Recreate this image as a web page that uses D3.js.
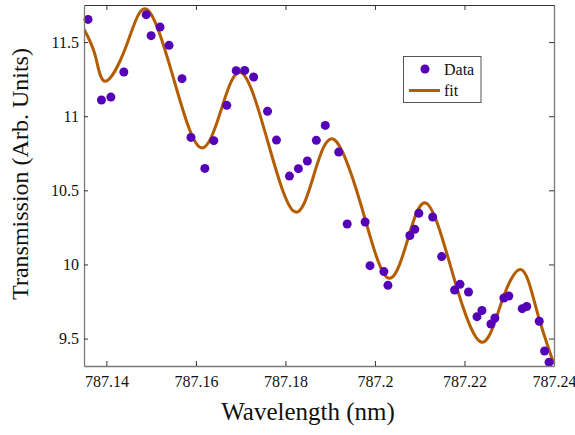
<!DOCTYPE html>
<html>
<head>
<meta charset="utf-8">
<script src="https://cdn.jsdelivr.net/npm/d3@7"></script>
<style>
  html, body { margin: 0; padding: 0; background: #fff; }
  svg { display: block; }
  text { font-family: "Liberation Serif", "DejaVu Serif", serif; fill: #111; }
</style>
</head>
<body>
<svg id="chart" width="575" height="435"></svg>
<script>
// ---- data ----
const dataX = [787.1359, 787.1389, 787.1410, 787.1439, 787.1489, 787.1500, 787.1520, 787.1540,
  787.1569, 787.1589, 787.1620, 787.1640, 787.1669, 787.1690, 787.1709, 787.1729,
  787.1760, 787.1780, 787.1809, 787.1829, 787.1849, 787.1869, 787.1889, 787.1919,
  787.1938, 787.1978, 787.1989, 787.2020, 787.2029, 787.2078, 787.2089, 787.2098,
  787.2129, 787.2149, 787.2178, 787.2190, 787.2209, 787.2228, 787.2239, 787.2259,
  787.2268, 787.2288, 787.2299, 787.2329, 787.2339, 787.2367, 787.2379, 787.2389];
const dataY = [11.653, 11.109, 11.129, 11.298, 11.685, 11.543, 11.601, 11.478,
  11.253, 10.857, 10.648, 10.835, 11.073, 11.307, 11.309, 11.264,
  11.033, 10.839, 10.596, 10.646, 10.698, 10.837, 10.938, 10.758,
  10.273, 10.286, 9.992, 9.952, 9.859, 10.195, 10.237, 10.345,
  10.320, 10.053, 9.828, 9.866, 9.814, 9.648, 9.689, 9.598,
  9.639, 9.774, 9.787, 9.702, 9.716, 9.617, 9.416, 9.340];
const fitX = [787.1350, 787.1375, 787.1398, 787.1445, 787.1491, 787.1550, 787.1608, 787.1656,
  787.1703, 787.1761, 787.1819, 787.1864, 787.1909, 787.1969, 787.2026, 787.2072,
  787.2118, 787.2178, 787.2237, 787.2282, 787.2327, 787.2362, 787.2400];
const fitY = [11.586, 11.410, 11.235, 11.478, 11.720, 11.255, 10.792, 11.039,
  11.291, 10.824, 10.358, 10.608, 10.842, 10.399, 9.915, 10.156,
  10.406, 9.893, 9.477, 9.738, 9.965, 9.684, 9.327];
const xTicks = [787.14, 787.16, 787.18, 787.20, 787.22, 787.24];
const xTickLabels = ["787.14", "787.16", "787.18", "787.2", "787.22", "787.24"];
const yTicks = [9.5, 10, 10.5, 11, 11.5];
const yTickLabels = ["9.5", "10", "10.5", "11", "11.5"];
const legendLabels = ["Data", "fit"];

// ---- layout ----
const L = 84, R = 554, T = 5, B = 366;
const ptColor = "#5500b8", fitColor = "#b35c00", axisColor = "#7a7a7a";
const serif = '"Liberation Serif", "DejaVu Serif", serif';

const svg = d3.select("#chart");
const x = d3.scaleLinear().domain([787.135, 787.24]).range([L, R]);
const y = d3.scaleLinear().domain([9.315, 11.75]).range([B, T]);

const plot = svg.append("g");
plot.append("clipPath").attr("id", "clip").append("rect")
  .attr("x", L).attr("y", T).attr("width", R - L).attr("height", B - T);

// fit curve
const fitPts = fitX.map((v, i) => [v, fitY[i]]);
plot.append("path")
  .attr("clip-path", "url(#clip)")
  .attr("d", d3.line().x(d => x(d[0])).y(d => y(d[1])).curve(d3.curveNatural)(fitPts))
  .attr("fill", "none").attr("stroke", fitColor).attr("stroke-width", 3);

// data points
plot.selectAll("circle.pt").data(dataX.map((v, i) => [v, dataY[i]])).enter()
  .append("circle").attr("class", "pt")
  .attr("cx", d => x(d[0])).attr("cy", d => y(d[1])).attr("r", 4.5)
  .attr("fill", ptColor);

// axes (ticks inward, mirrored)
function styleAxis(g, hideText) {
  g.attr("font-family", serif).attr("font-size", 16);
  g.select(".domain").attr("stroke", axisColor).attr("stroke-width", 1.3);
  g.selectAll(".tick line").attr("stroke", "#333").attr("stroke-width", 1);
  g.selectAll(".tick text").attr("font-family", serif).style("font-family", serif)
    .style("font-size", "16px").attr("fill", "#222");
  if (hideText) g.selectAll(".tick text").remove();
}
const gx = svg.append("g").attr("transform", `translate(0,${B})`)
  .call(d3.axisBottom(x).tickValues(xTicks).tickFormat((d, i) => xTickLabels[i]).tickSizeInner(-5).tickSizeOuter(0).tickPadding(10));
styleAxis(gx, false);
const gxt = svg.append("g").attr("transform", `translate(0,${T})`)
  .call(d3.axisTop(x).tickValues(xTicks).tickSizeInner(-5).tickSizeOuter(0));
styleAxis(gxt, true);
gxt.select(".domain").attr("stroke", "#333").attr("stroke-width", 1);
const gy = svg.append("g").attr("transform", `translate(${L},0)`)
  .call(d3.axisLeft(y).tickValues(yTicks).tickFormat((d, i) => yTickLabels[i]).tickSizeInner(-4).tickSizeOuter(0).tickPadding(5));
styleAxis(gy, false);
const gyr = svg.append("g").attr("transform", `translate(${R},0)`)
  .call(d3.axisRight(y).tickValues(yTicks).tickSizeInner(-5).tickSizeOuter(0));
styleAxis(gyr, true);

// axis titles
svg.append("text").attr("x", 308).attr("y", 420).attr("text-anchor", "middle")
  .style("font-family", serif).style("font-size", "25px").text("Wavelength (nm)");
svg.append("text").attr("transform", "translate(28,174) rotate(-90)").attr("text-anchor", "middle")
  .style("font-family", serif).style("font-size", "24px").text("Transmission (Arb. Units)");

// legend
const lg = svg.append("g");
lg.append("rect").attr("x", 403.5).attr("y", 56.5).attr("width", 77.5).attr("height", 46)
  .attr("fill", "#fff").attr("stroke", "#555").attr("stroke-width", 1);
lg.append("circle").attr("cx", 425).attr("cy", 69).attr("r", 4.5).attr("fill", ptColor);
lg.append("line").attr("x1", 409).attr("x2", 440).attr("y1", 90.5).attr("y2", 90.5)
  .attr("stroke", fitColor).attr("stroke-width", 3);
lg.append("text").attr("x", 444).attr("y", 75).style("font-family", serif).style("font-size", "16px").text(legendLabels[0]);
lg.append("text").attr("x", 444).attr("y", 96).style("font-family", serif).style("font-size", "16px").text(legendLabels[1]);
</script>
</body>
</html>
